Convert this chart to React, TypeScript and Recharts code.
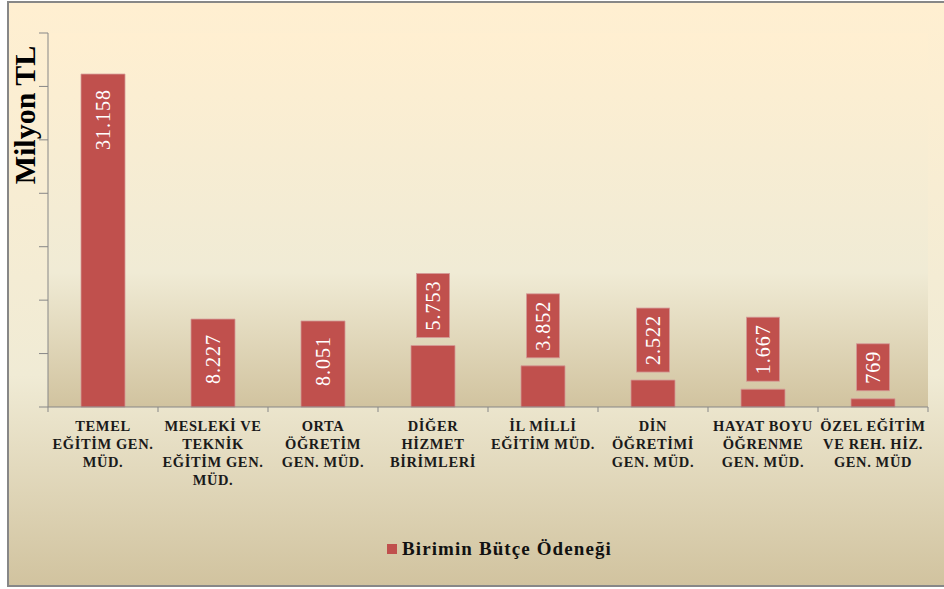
import { BarChart, Bar, XAxis, YAxis, CartesianGrid, LabelList, Legend } from 'recharts';

const categories = [
  'TEMEL\nEĞİTİM GEN.\nMÜD.',
  'MESLEKİ VE\nTEKNİK\nEĞİTİM GEN.\nMÜD.',
  'ORTA\nÖĞRETİM\nGEN. MÜD.',
  'DİĞER\nHİZMET\nBİRİMLERİ',
  'İL MİLLİ\nEĞİTİM MÜD.',
  'DİN\nÖĞRETİMİ\nGEN. MÜD.',
  'HAYAT BOYU\nÖĞRENME\nGEN. MÜD.',
  'ÖZEL EĞİTİM\nVE REH. HİZ.\nGEN. MÜD',
];
const budget = [31158, 8227, 8051, 5753, 3852, 2522, 1667, 769];
const yTicks = [0, 5000, 10000, 15000, 20000, 25000, 30000, 35000];
const seriesName = 'Birimin Bütçe Ödeneği';
const yTitle = 'Milyon TL';

const data = categories.map((name, i) => ({ name, value: budget[i] }));

const W = 944;
const H = 589;
const M = { top: 33, right: 16, bottom: 20, left: 0 };
const Y_W = 48;
const BAND = (W - M.left - M.right - Y_W) / categories.length;
const SERIF = '"Liberation Serif", "Times New Roman", serif';
const RED = '#C0504D';
const GRAY = '#878787';
const BG = 'linear-gradient(to bottom, #FFEFD1 0%, #F0EBD5 64%, #D1C39F 100%)';

const fmt = (v: number) => String(v).replace(/\B(?=(\d{3})+(?!\d))/g, '.');

function CatTick(props: any) {
  const { x, y, payload, index } = props;
  const lines = String(payload.value).split('\n');
  return (
    <g>
      <line x1={x - BAND / 2} x2={x - BAND / 2} y1={y} y2={y + 5} stroke={GRAY} />
      {index === categories.length - 1 && (
        <line x1={x + BAND / 2} x2={x + BAND / 2} y1={y} y2={y + 5} stroke={GRAY} />
      )}
      <text x={x} y={y + 24} textAnchor="middle" fontFamily={SERIF} fontWeight="bold" fontSize={14.5}
        fill="#1a1a1a" style={{ letterSpacing: 0.6 }}>
        {lines.map((l, i) => (
          <tspan key={i} x={x} dy={i === 0 ? 0 : 18}>{l}</tspan>
        ))}
      </text>
    </g>
  );
}

function ValueLabel(props: any) {
  const { x, y, width, height, value } = props;
  const cx = x + width / 2;
  const text = fmt(Number(value));
  const style = { fontFamily: SERIF, fontSize: 20, letterSpacing: 1 };
  if (height > 75) {
    const ty = y + 15;
    return (
      <text transform={`rotate(-90 ${cx} ${ty})`} x={cx} y={ty} textAnchor="end" dominantBaseline="central" fill="#fff" style={style}>
        {text}
      </text>
    );
  }
  const boxH = 21.5 + 8.5 * text.length;
  const bottom = y - 8;
  const top = bottom - boxH;
  const cy = (top + bottom) / 2;
  return (
    <g>
      <rect x={cx - 16.5} y={top} width={33} height={boxH} fill={RED} stroke="#D49A98" strokeWidth={0.8} />
      <text transform={`rotate(-90 ${cx} ${cy})`} x={cx} y={cy} textAnchor="middle" dominantBaseline="central" fill="#fff" style={style}>
        {text}
      </text>
    </g>
  );
}

function YTitle(props: any) {
  const { viewBox } = props;
  const tx = viewBox.x + 35;
  const ty = 115;
  return (
    <text transform={`rotate(-90 ${tx} ${ty})`} x={tx} y={ty} textAnchor="middle" fontFamily={SERIF} fontWeight="bold" fontSize={30} fill="#000">
      {yTitle}
    </text>
  );
}

function LegendBox(props: any) {
  const item = (props.payload || [])[0];
  return (
    <div style={{ height: 40, display: 'flex', alignItems: 'center', paddingLeft: 387, fontFamily: SERIF, fontWeight: 'bold', fontSize: 19, letterSpacing: 1.1, color: '#111' }}>
      <span style={{ display: 'inline-block', width: 10, height: 10, background: item ? item.color : RED, marginRight: 5 }} />
      <span>{item ? item.value : seriesName}</span>
    </div>
  );
}

export default function App() {
  return (
    <div style={{ position: 'absolute', left: 0, top: 0, width: W, height: H, overflow: 'hidden' }}>
      <div style={{ position: 'absolute', left: 7, top: 1, width: 960, height: 586, boxSizing: 'border-box', border: `2px solid ${GRAY}`, background: BG }} />
      <div style={{ position: 'absolute', left: 0, top: 0 }}>
        <BarChart width={W} height={H} data={data} margin={M} barCategoryGap="30%">
          <defs>
            <linearGradient id="plotBg" x1="0" y1="0" x2="0" y2="1">
              <stop offset="0%" stopColor="#FFEFD1" />
              <stop offset="64%" stopColor="#F0EBD5" />
              <stop offset="100%" stopColor="#D1C39F" />
            </linearGradient>
          </defs>
          <CartesianGrid horizontal={false} vertical={false} fill="url(#plotBg)" />
          <XAxis dataKey="name" interval={0} height={122} tickLine={false} tickSize={0} tickMargin={0}
            axisLine={{ stroke: GRAY }} tick={<CatTick />} />
          <YAxis width={Y_W} domain={[0, 35000]} ticks={yTicks} tickSize={9} tick={() => <g />}
            axisLine={{ stroke: GRAY }} tickLine={{ stroke: GRAY }} label={<YTitle />} />
          <Legend verticalAlign="bottom" wrapperStyle={{ left: 0, width: W }} content={<LegendBox />} />
          <Bar dataKey="value" name={seriesName} fill={RED} stroke="#D49A98" strokeWidth={0.8} isAnimationActive={false}>
            <LabelList dataKey="value" content={<ValueLabel />} />
          </Bar>
        </BarChart>
      </div>
    </div>
  );
}
